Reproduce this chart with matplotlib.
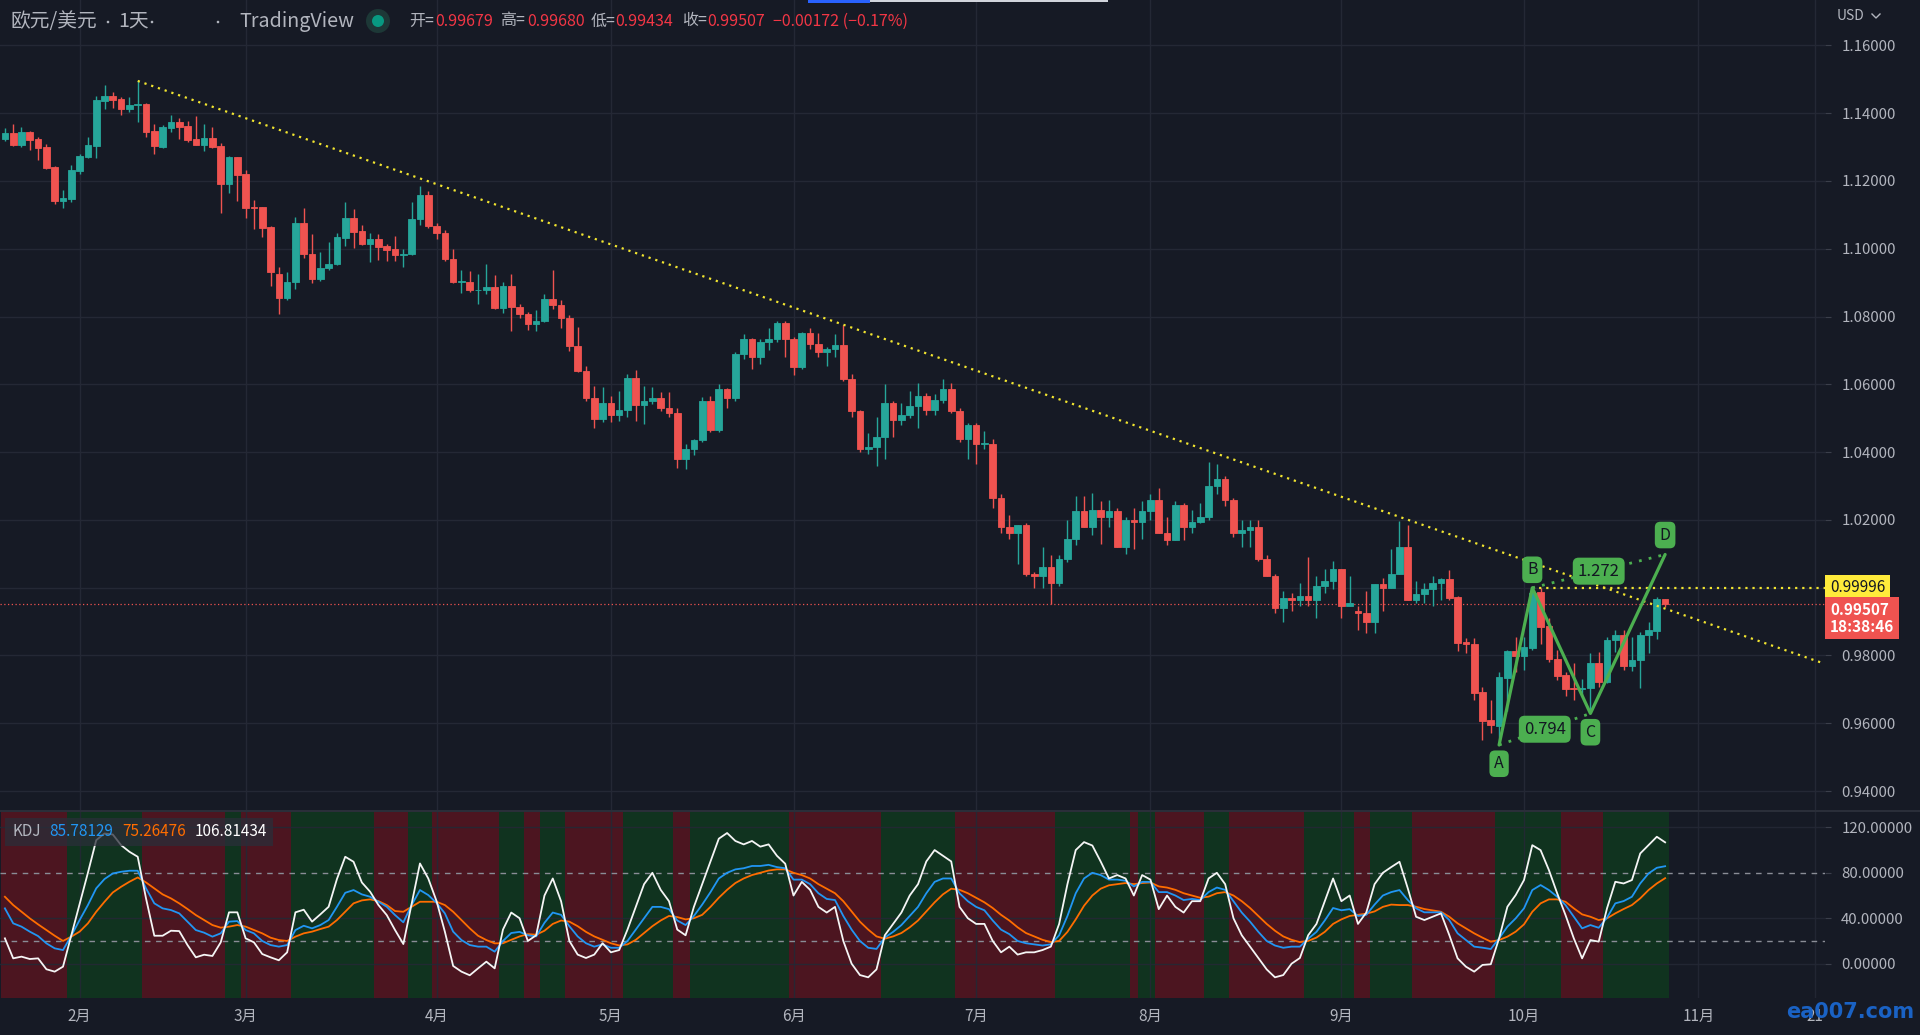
import numpy as np
import pandas as pd
import matplotlib
matplotlib.use('Agg')
import matplotlib.pyplot as plt
import matplotlib.transforms as mtransforms
from matplotlib.patches import Rectangle, Circle

# ---------------- data (EUR/USD daily) ----------------
opens = [1.1323, 1.1341, 1.1306, 1.1344, 1.1323, 1.1300, 1.1241, 1.1142, 1.1147, 1.1229,
         1.1270, 1.1303, 1.1436, 1.1451, 1.1442, 1.1412, 1.1424, 1.1427, 1.1347, 1.1300,
         1.1356, 1.1374, 1.1362, 1.1323, 1.1306, 1.1326, 1.1303, 1.1191, 1.1270, 1.1220,
         1.1123, 1.1123, 1.1064, 1.0925, 1.0855, 1.0902, 1.1076, 1.0984, 1.0912, 1.0942,
         1.0956, 1.1032, 1.1090, 1.1052, 1.1014, 1.1029, 1.1008, 1.0999, 1.0981, 1.0985,
         1.1088, 1.1158, 1.1067, 1.1046, 1.0971, 1.0903, 1.0903, 1.0877, 1.0877, 1.0888,
         1.0826, 1.0891, 1.0827, 1.0808, 1.0779, 1.0788, 1.0851, 1.0834, 1.0796, 1.0713,
         1.0640, 1.0560, 1.0497, 1.0545, 1.0508, 1.0523, 1.0620, 1.0540, 1.0550, 1.0560,
         1.0530, 1.0515, 1.0380, 1.0410, 1.0435, 1.0550, 1.0465, 1.0585, 1.0560, 1.0690,
         1.0735, 1.0680, 1.0725, 1.0735, 1.0780, 1.0735, 1.0650, 1.0750, 1.0720, 1.0695,
         1.0705, 1.0715, 1.0615, 1.0520, 1.0410, 1.0415, 1.0445, 1.0545, 1.0495, 1.0510,
         1.0535, 1.0565, 1.0525, 1.0555, 1.0585, 1.0520, 1.0440, 1.0480, 1.0425, 1.0425,
         1.0265, 1.0180, 1.0160, 1.0185, 1.0040, 1.0035, 1.0060, 1.0015, 1.0085, 1.0145,
         1.0225, 1.0180, 1.0230, 1.0210, 1.0225, 1.0120, 1.0200, 1.0195, 1.0225, 1.0260,
         1.0160, 1.0140, 1.0245, 1.0180, 1.0195, 1.0210, 1.0300, 1.0320, 1.0260, 1.0160,
         1.0170, 1.0180, 1.0085, 1.0035, 0.9940, 0.9970, 0.9965, 0.9975, 0.9965, 1.0005,
         1.0020, 1.0055, 0.9945, 0.9930, 0.9925, 0.9900, 1.0010, 1.0000, 1.0040, 1.0120,
         0.9965, 0.9980, 0.9995, 1.0015, 1.0025, 0.9974, 0.9841, 0.9834, 0.9692, 0.9609,
         0.9592, 0.9734, 0.9814, 0.9798, 0.9823, 0.9988, 0.9887, 0.9791, 0.9741, 0.9703,
         0.9700, 0.9703, 0.9777, 0.9722, 0.9845, 0.9860, 0.9770, 0.9786, 0.9860, 0.9873,
         0.99679]
highs = [1.1355, 1.1368, 1.1358, 1.1347, 1.1329, 1.1309, 1.1244, 1.1173, 1.1247, 1.1279,
         1.1329, 1.1450, 1.1483, 1.1462, 1.1448, 1.1448, 1.1495, 1.1430, 1.1368, 1.1365,
         1.1394, 1.1386, 1.1377, 1.1391, 1.1368, 1.1359, 1.1312, 1.1273, 1.1270, 1.1232,
         1.1144, 1.1123, 1.1067, 1.0945, 1.0932, 1.1093, 1.1120, 1.1043, 1.0990, 1.1020,
         1.1045, 1.1138, 1.1117, 1.1070, 1.1046, 1.1043, 1.1014, 1.1037, 1.0999, 1.1137,
         1.1185, 1.1170, 1.1076, 1.1055, 1.0998, 1.0937, 1.0934, 1.0925, 1.0955, 1.0922,
         1.0903, 1.0925, 1.0838, 1.0814, 1.0818, 1.0866, 1.0937, 1.0850, 1.0804, 1.0770,
         1.0655, 1.0595, 1.0593, 1.0565, 1.0580, 1.0630, 1.0642, 1.0595, 1.0593, 1.0576,
         1.0577, 1.0530, 1.0425, 1.0440, 1.0563, 1.0565, 1.0600, 1.0590, 1.0695, 1.0748,
         1.0738, 1.0735, 1.0765, 1.0787, 1.0786, 1.0740, 1.0755, 1.0765, 1.0750, 1.0710,
         1.0748, 1.0775, 1.0630, 1.0525, 1.0455, 1.0505, 1.0600, 1.0550, 1.0545, 1.0580,
         1.0605, 1.0575, 1.0570, 1.0615, 1.0605, 1.0530, 1.0487, 1.0485, 1.0463, 1.0440,
         1.0275, 1.0215, 1.0185, 1.0190, 1.0045, 1.0120, 1.0095, 1.0095, 1.0200, 1.0270,
         1.0270, 1.0280, 1.0255, 1.0258, 1.0235, 1.0210, 1.0235, 1.0255, 1.0275, 1.0295,
         1.0210, 1.0255, 1.0250, 1.0230, 1.0250, 1.0370, 1.0365, 1.0330, 1.0265, 1.0200,
         1.0200, 1.0200, 1.0095, 1.0040, 0.9990, 0.9985, 1.0015, 1.0090, 1.0035, 1.0055,
         1.0080, 1.0055, 1.0035, 0.9945, 0.9990, 1.0010, 1.0030, 1.0115, 1.0198, 1.0185,
         1.0020, 1.0015, 1.0035, 1.0030, 1.0052, 0.9975, 0.9853, 0.9853, 0.9708, 0.9670,
         0.9750, 0.9816, 0.9855, 0.9855, 0.99996, 0.9998, 0.9910, 0.9816, 0.9752, 0.9777,
         0.9730, 0.9806, 0.9811, 0.9855, 0.9875, 0.9875, 0.9855, 0.9870, 0.9899, 0.9974,
         0.99680]
lows = [1.1319, 1.1303, 1.1301, 1.1291, 1.1262, 1.1235, 1.1132, 1.1120, 1.1138, 1.1220,
        1.1267, 1.1267, 1.1412, 1.1415, 1.1394, 1.1403, 1.1374, 1.1329, 1.1279, 1.1297,
        1.1344, 1.1323, 1.1315, 1.1305, 1.1288, 1.1297, 1.1105, 1.1164, 1.1141, 1.1090,
        1.1058, 1.1034, 1.0890, 1.0806, 1.0848, 1.0880, 1.0973, 1.0900, 1.0905, 1.0936,
        1.0951, 1.1008, 1.1002, 1.1011, 1.0962, 1.0968, 1.0964, 1.0965, 1.0945, 1.0980,
        1.1070, 1.1060, 1.1028, 1.0963, 1.0900, 1.0870, 1.0872, 1.0838, 1.0865, 1.0821,
        1.0810, 1.0758, 1.0797, 1.0760, 1.0757, 1.0785, 1.0823, 1.0767, 1.0697, 1.0637,
        1.0551, 1.0471, 1.0488, 1.0490, 1.0493, 1.0505, 1.0493, 1.0484, 1.0542, 1.0522,
        1.0505, 1.0354, 1.0350, 1.0390, 1.0430, 1.0460, 1.0460, 1.0530, 1.0550, 1.0675,
        1.0645, 1.0660, 1.0700, 1.0725, 1.0680, 1.0627, 1.0645, 1.0705, 1.0680, 1.0655,
        1.0680, 1.0610, 1.0505, 1.0400, 1.0395, 1.0360, 1.0380, 1.0445, 1.0480, 1.0500,
        1.0470, 1.0510, 1.0510, 1.0545, 1.0515, 1.0430, 1.0380, 1.0365, 1.0410, 1.0235,
        1.0160, 1.0145, 1.0070, 1.0035, 0.9998, 0.9998, 0.9952, 1.0005, 1.0075, 1.0125,
        1.0180, 1.0155, 1.0130, 1.0180, 1.0120, 1.0100, 1.0115, 1.0145, 1.0200, 1.0160,
        1.0125, 1.0140, 1.0140, 1.0160, 1.0190, 1.0200, 1.0275, 1.0240, 1.0150, 1.0120,
        1.0120, 1.0080, 1.0035, 0.9925, 0.9900, 0.9930, 0.9945, 0.9945, 0.9910, 0.9985,
        0.9995, 0.9910, 0.9945, 0.9875, 0.9865, 0.9865, 0.9930, 1.0000, 1.0040, 0.9965,
        0.9955, 0.9955, 0.9945, 0.9965, 0.9965, 0.9814, 0.9808, 0.9670, 0.9552, 0.9570,
        0.9536, 0.9635, 0.9750, 0.9757, 0.9815, 0.9835, 0.9780, 0.9727, 0.9680, 0.9668,
        0.9680, 0.9629, 0.9708, 0.9720, 0.9810, 0.9757, 0.9755, 0.9703, 0.9806, 0.9850,
        0.99434]
closes = [1.1340, 1.1306, 1.1344, 1.1321, 1.1297, 1.1237, 1.1141, 1.1150, 1.1232, 1.1273,
          1.1306, 1.1439, 1.1451, 1.1439, 1.1412, 1.1424, 1.1427, 1.1344, 1.1303, 1.1359,
          1.1374, 1.1359, 1.1321, 1.1306, 1.1326, 1.1300, 1.1191, 1.1270, 1.1217, 1.1120,
          1.1120, 1.1061, 1.0930, 1.0855, 1.0902, 1.1076, 1.0984, 1.0912, 1.0942, 1.0956,
          1.1035, 1.1090, 1.1049, 1.1014, 1.1029, 1.1005, 1.0996, 1.0981, 1.0985, 1.1088,
          1.1158, 1.1067, 1.1046, 1.0971, 1.0903, 1.0905, 1.0877, 1.0878, 1.0888, 1.0826,
          1.0891, 1.0827, 1.0808, 1.0779, 1.0788, 1.0851, 1.0834, 1.0796, 1.0713, 1.0640,
          1.0560, 1.0497, 1.0545, 1.0508, 1.0523, 1.0620, 1.0540, 1.0550, 1.0560, 1.0530,
          1.0515, 1.0380, 1.0410, 1.0435, 1.0550, 1.0465, 1.0585, 1.0560, 1.0690, 1.0735,
          1.0680, 1.0725, 1.0735, 1.0780, 1.0735, 1.0650, 1.0750, 1.0720, 1.0695, 1.0705,
          1.0715, 1.0615, 1.0520, 1.0410, 1.0415, 1.0445, 1.0545, 1.0495, 1.0510, 1.0535,
          1.0565, 1.0525, 1.0555, 1.0585, 1.0520, 1.0440, 1.0480, 1.0425, 1.0427, 1.0265,
          1.0180, 1.0160, 1.0185, 1.0040, 1.0035, 1.0060, 1.0015, 1.0085, 1.0145, 1.0225,
          1.0180, 1.0230, 1.0210, 1.0225, 1.0120, 1.0200, 1.0195, 1.0225, 1.0260, 1.0160,
          1.0140, 1.0245, 1.0180, 1.0195, 1.0210, 1.0300, 1.0320, 1.0260, 1.0160, 1.0170,
          1.0180, 1.0085, 1.0035, 0.9940, 0.9970, 0.9965, 0.9975, 0.9965, 1.0005, 1.0020,
          1.0055, 0.9945, 0.9955, 0.9925, 0.9900, 1.0010, 1.0000, 1.0040, 1.0120, 0.9965,
          0.9980, 0.9995, 1.0015, 1.0025, 0.9969, 0.9838, 0.9834, 0.9690, 0.9607, 0.9594,
          0.9737, 0.9814, 0.9798, 0.9825, 0.9985, 0.9885, 0.9790, 0.9740, 0.9702, 0.9700,
          0.9703, 0.9777, 0.9722, 0.9845, 0.9860, 0.9770, 0.9788, 0.9860, 0.9875, 0.9966,
          0.99507]

# KDJ values
kdj_k = [48.7, 35.5, 32.6, 28.2, 24.3, 17.9, 13.5, 12.0, 24.6, 38.4,
         51.6, 66.3, 74.5, 79.4, 80.9, 81.8, 81.8, 66.3, 53.1, 48.7,
         47.2, 44.3, 37.0, 29.6, 27.3, 23.8, 26.7, 37.0, 37.5, 29.6,
         26.7, 20.0, 16.4, 15.0, 16.4, 29.6, 33.4, 31.1, 34.0, 38.4,
         50.1, 62.4, 64.8, 61.0, 58.9, 54.5, 50.1, 42.8, 36.4, 51.6,
         64.8, 60.4, 53.5, 44.3, 28.2, 20.8, 16.4, 15.0, 15.0, 10.6,
         20, 27, 28, 25, 24, 36, 45, 43, 33, 24,
         18, 15, 17, 14, 14, 20, 30, 40, 50, 50,
         48, 38, 34, 42, 52, 63, 75, 80, 83, 84,
         86, 86, 87, 85, 84, 74, 74, 70, 62, 57,
         56, 42, 30, 20, 14, 13, 23, 28, 34, 42,
         50, 62, 72, 75, 75, 62, 55, 50, 47, 38,
         30, 26, 20, 18, 17, 16, 17, 25, 42, 62,
         75, 80, 78, 74, 74, 73, 68, 72, 72, 63,
         63, 60, 56, 57, 56, 63, 67, 65, 55, 45,
         37, 28, 20, 16, 14, 15, 15, 22, 28, 38,
         49, 47, 48, 42, 43, 52, 60, 63, 64.8, 56.0,
         48.7, 45.2, 45.2, 45.3, 38.4, 26.7, 20.8, 15.0, 14.1, 12.9,
         22.3, 32.6, 39.9, 48.7, 64.8, 69.2, 64.8, 58.9, 51.6, 41.3,
         31.1, 34.0, 31.6, 40.5, 53.1, 55.1, 58.9, 70.6, 79.4, 84.4,
         85.78129]
kdj_d = [58.9, 51.6, 45.7, 39.9, 34.6, 29.6, 24.6, 20.0, 23.8, 28.2,
         35.5, 45.7, 54.5, 62.7, 67.7, 72.1, 75.9, 71.5, 66.3, 61.0,
         57.5, 53.1, 48.1, 42.8, 38.4, 34.0, 31.7, 32.6, 34.0, 32.6,
         29.6, 26.7, 22.9, 20.8, 20.0, 23.8, 26.7, 28.2, 30.5, 32.6,
         38.4, 45.7, 53.1, 55.7, 56.6, 55.1, 51.6, 46.3, 45.7, 50.1,
         54.5, 54.5, 54.5, 51.6, 45.7, 38.4, 31.1, 24.6, 20.8, 17.9,
         18, 21, 24, 26, 25.5, 29, 35, 38, 37, 33,
         28, 24, 21, 18, 16, 17, 21, 27, 33, 38,
         42, 41, 39, 40, 43, 50, 58, 65, 71, 75,
         78, 80, 82, 83, 83, 80, 78, 75, 70, 66,
         62, 55, 46, 37, 30, 24, 22, 24, 27, 32,
         38, 46, 54, 61, 66, 65, 62, 58, 54, 49,
         43, 38, 32, 27, 24, 21, 19, 20, 28, 39,
         51, 60, 66, 69, 70, 71, 70, 71, 71.5, 68,
         67, 65, 62, 60, 58, 59, 62, 63, 60, 55,
         49, 42, 35, 29, 24, 21, 19, 20, 23, 28,
         35, 39, 42, 43, 44, 46, 50, 52, 51.6, 51.6,
         50.1, 48.1, 46.9, 45.7, 41.3, 35.5, 31.1, 26.7, 22.9, 19.4,
         20.8, 23.8, 28.2, 34.6, 45.7, 53.1, 56.6, 56.6, 54.5, 48.7,
         43.4, 41.3, 38.4, 39.9, 44.3, 48.1, 51.6, 57.5, 64.8, 70.6,
         75.26476]
kdj_j = [22.3, 4.7, 6.2, 4.1, 4.7, -4.9, -7.0, -2.6, 24.9, 52.5,
         80.0, 108.7, 114.6, 113.7, 104.3, 98.5, 94.1, 57.5, 24.6, 24.6,
         29.0, 28.7, 16.4, 5.6, 7.9, 6.8, 18.8, 45.2, 45.2, 22.3,
         18.8, 8.5, 5.6, 3.0, 10.0, 45.2, 47.5, 37.0, 43.4, 50.1,
         74.5, 94.1, 89.7, 71.5, 63.3, 51.6, 42.8, 29.6, 17.3, 52.8,
         88.2, 75.0, 55.1, 28.2, -2.0, -7.0, -10.2, -4.1, 1.8, -4.1,
         30, 45, 40, 20, 25, 60, 75, 55, 20, 8,
         5, 8, 18, 10, 12, 30, 50, 70, 80, 65,
         55, 30, 25, 50, 70, 90, 110, 115, 108, 105,
         108, 103, 105, 95, 88, 60, 72, 65, 50, 45,
         50, 20, 0, -10, -12, -5, 25, 35, 45, 60,
         70, 90, 100, 95, 90, 50, 40, 35, 35, 20,
         10, 15, 8, 10, 10, 12, 15, 35, 70, 100,
         107, 104, 90, 75, 78, 75, 60, 78, 74, 48,
         60, 50, 45, 55, 55, 75, 80, 70, 40, 25,
         15, 5, -5, -12, -10, 0, 5, 25, 35, 55,
         75, 55, 60, 35, 45, 70, 80, 85, 89.7, 66.3,
         41.3, 38.4, 41.3, 44.3, 25.2, 4.7, -2.6, -7.0, -1.1, -0.5,
         22.3, 50.1, 60.4, 73.6, 104.3, 99.9, 82.4, 61.9, 42.8, 22.3,
         4.7, 20.8, 19.4, 48.7, 72.1, 70.6, 73.6, 97.0, 104.3, 111.7,
         106.81434]

# background bands of the KDJ pane: first bar of each run, and whether K is above D
band_start = [0, 8, 17, 27, 29, 35, 45, 49, 52, 60, 63, 65, 68, 75, 81, 83,
              95, 106, 115, 127, 136, 137, 139, 145, 148, 157, 163, 165, 170, 180, 188, 193]
band_up = [False, True] * 16

# drawings
trend_anchor_idx = [16, 168]
trend_anchor_price = [1.1495, 1.0209]
abcd_names = ['A', 'B', 'C', 'D']
abcd_idx = [180, 184, 191, 200]
abcd_price = [0.9536, 0.99996, 0.9629, 1.0098]
ratio_ac = '0.794'
ratio_bd = '1.272'
level_price = 0.99996
last_price = 0.99507
countdown = '18:38:46'

price_ticks = [0.94, 0.96, 0.98, 1.02, 1.04, 1.06, 1.08, 1.10, 1.12, 1.14, 1.16]
kdj_ticks = [0, 40, 80, 120]
month_labels = ['2月', '3月', '4月', '5月', '6月', '7月', '8月', '9月', '10月', '11月', '21']

# ---------------- style ----------------
BG = '#161a25'
GRID = '#242835'
TXT = '#b2b5be'
UP = '#26a69a'
DOWN = '#ef5350'
RED_TXT = '#f23645'
GREEN = '#4caf50'
YEL = '#f2e530'
BAND_UP = '#10331f'
BAND_DN = '#4c1520'

plt.rcParams['font.family'] = ['Noto Sans CJK SC', 'DejaVu Sans']
plt.rcParams['axes.unicode_minus'] = False

W, H = 1920, 1035
fig = plt.figure(figsize=(W / 100, H / 100), dpi=100, facecolor=BG)


def frac(x0, y0, x1, y1):
    return [x0 / W, 1 - y1 / H, (x1 - x0) / W, (y1 - y0) / H]


ax = fig.add_axes(frac(0, 0, 1824.5, 809.5))
axk = fig.add_axes(frac(0, 812, 1824.5, 998))
for a in (ax, axk):
    a.set_facecolor(BG)
    for s in a.spines.values():
        s.set_visible(False)

n = len(closes)
x = np.arange(n)
o = np.array(opens)
c = np.array(closes)
hi = np.array(highs)
lo = np.array(lows)

# calendar for the time axis
cal = pd.bdate_range('2022-01-19', '2022-11-30')
month_pos = [i for i in range(1, len(cal)) if cal[i].month != cal[i - 1].month]
month_pos = month_pos[:10] + [cal.get_loc(pd.Timestamp('2022-11-21'))]

XL = (-0.59, 219.2)

# ---------------- main pane ----------------
ax.set_xlim(*XL)
ax.set_ylim(0.93457, 1.17337)
for t in price_ticks + [1.00]:
    ax.axhline(t, color=GRID, lw=1, zorder=0.5)
for p in month_pos:
    ax.axvline(p, color=GRID, lw=1, zorder=0.5)

col = np.where(c >= o, UP, DOWN)
ax.vlines(x, lo, hi, colors=col, linewidth=1.0, zorder=3)
ax.bar(x, np.abs(c - o), bottom=np.minimum(o, c), width=0.8, color=col,
       edgecolor=col, linewidth=0.6, zorder=4)

# descending trend line
slope = (trend_anchor_price[1] - trend_anchor_price[0]) / (trend_anchor_idx[1] - trend_anchor_idx[0])
x_end = XL[1]
ax.plot([trend_anchor_idx[0], x_end],
        [trend_anchor_price[0], trend_anchor_price[0] + slope * (x_end - trend_anchor_idx[0])],
        color=YEL, lw=1.6, ls=(0, (1, 2.2)), zorder=5)
# level from B
ax.plot([abcd_idx[1], x_end], [level_price, level_price], color=YEL, lw=1.6,
        ls=(0, (1, 2.2)), zorder=5)
# last price line
ax.axhline(last_price, color=DOWN, lw=0.9, ls=(0, (1, 2)), zorder=2)

# ABCD pattern
ax.plot(abcd_idx, abcd_price, color=GREEN, lw=2.3, zorder=6, solid_capstyle='round')
ax.plot([abcd_idx[0], abcd_idx[2]], [abcd_price[0], abcd_price[2]], color=GREEN, lw=2.0,
        ls=(0, (1, 2.6)), zorder=6)
ax.plot([abcd_idx[1], abcd_idx[3]], [abcd_price[1], abcd_price[3]], color=GREEN, lw=2.0,
        ls=(0, (1, 2.6)), zorder=6)
box_kw = dict(boxstyle='round,pad=0.3,rounding_size=0.35', fc=GREEN, ec='none')
for name, px, py, dy in zip(abcd_names, abcd_idx, abcd_price, [-13.5, 13, -13.5, 14]):
    ax.annotate(name, (px, py), xytext=(0, dy), textcoords='offset points', ha='center',
                va='center', fontsize=11.5, color='#131722', bbox=box_kw, zorder=8)
for (i0, i1), label in (((0, 2), ratio_ac), ((1, 3), ratio_bd)):
    mx = (abcd_idx[i0] + abcd_idx[i1]) / 2
    my = (abcd_price[i0] + abcd_price[i1]) / 2
    ax.text(mx, my, label, ha='center', va='center', fontsize=12, color='#131722',
            bbox=dict(boxstyle='round,pad=0.3,rounding_size=0.35', fc=GREEN, ec='none'),
            zorder=8)

# price axis
ax.yaxis.tick_right()
ax.set_yticks(price_ticks)
ax.yaxis.set_major_formatter(plt.FuncFormatter(lambda v, p: f'{v:.5f}'))
ax.tick_params(axis='y', length=4, width=0.8, color='#3b3f4b', labelcolor=TXT,
               labelsize=10.8, pad=8)
ax.set_xticks([])

bt = mtransforms.blended_transform_factory(ax.transAxes, ax.transData)
ax.text(1.003, level_price, '0.99996', transform=bt, ha='left', va='center',
        fontsize=11, color='#131722', clip_on=False, zorder=9,
        bbox=dict(boxstyle='square,pad=0.3', fc='#ffeb3b', ec='none'))
ax.text(1.003, last_price + 0.00075, f'{last_price:.5f}\n{countdown}', transform=bt,
        ha='left', va='top', fontsize=11, color='white', fontweight='bold',
        linespacing=1.05, clip_on=False, zorder=9,
        bbox=dict(boxstyle='square,pad=0.3', fc=DOWN, ec='none'))

# ---------------- KDJ pane ----------------
axk.set_xlim(*XL)
axk.set_ylim(-30.2, 133.5)
ends = band_start[1:] + [n]
for s, e, up in zip(band_start, ends, band_up):
    axk.axvspan(s - 0.5, e - 0.5, color=BAND_UP if up else BAND_DN, lw=0, zorder=0.2)
for t in (0, 40, 120):
    axk.axhline(t, color=GRID, lw=1, zorder=0.5, alpha=0.9)
for p in month_pos:
    axk.axvline(p, color=GRID, lw=1, zorder=0.5, alpha=0.9)
for lvl in (80, 20):
    axk.axhline(lvl, color='#8a8d96', lw=1, ls=(0, (4, 4)), zorder=1)
axk.plot(x, kdj_d, color='#ff6d00', lw=1.3, zorder=3)
axk.plot(x, kdj_k, color='#2196f3', lw=1.3, zorder=4)
axk.plot(x, kdj_j, color='#f5f5f5', lw=1.3, zorder=5)

axk.yaxis.tick_right()
axk.set_yticks(kdj_ticks)
axk.yaxis.set_major_formatter(plt.FuncFormatter(lambda v, p: f'{v:.5f}'))
axk.tick_params(axis='y', length=4, width=0.8, color='#3b3f4b', labelcolor=TXT,
                labelsize=10.8, pad=8)
axk.set_xticks(month_pos)
axk.set_xticklabels(month_labels)
axk.tick_params(axis='x', length=0, labelcolor=TXT, labelsize=11, pad=7)

# KDJ legend
fig.add_artist(Rectangle((5 / W, 1 - 846 / H), 268 / W, 28 / H, transform=fig.transFigure,
                         fc='#2a2e39', ec='none', alpha=0.75, zorder=10))
for xx, s, cc in ((12, 'KDJ', TXT), (49, f'{kdj_k[-1]:.5f}', '#2196f3'),
                  (122, f'{kdj_d[-1]:.5f}', '#ff6d00'), (195, f'{kdj_j[-1]:.5f}', 'white')):
    fig.text(xx / W, 1 - 832 / H, s, color=cc, fontsize=11, ha='left', va='center', zorder=11)

# pane separator
fig.add_artist(Rectangle((0, 1 - 811.5 / H), 1, 2 / H, transform=fig.transFigure,
                         fc='#2a2e39', ec='none', zorder=10))

# ---------------- header ----------------
for xx, s in ((11, '欧元/美元'), (118, '1天'), (239, 'TradingView')):
    fig.text(xx / W, 1 - 21 / H, s, color=TXT, fontsize=14.2, ha='left', va='center')
for xx in (108, 152, 218):
    fig.add_artist(Circle((xx / 100, (H - 22) / 100), 0.013, transform=fig.dpi_scale_trans,
                          fc=TXT, ec='none'))
fig.add_artist(Circle((378 / 100, (H - 21) / 100), 0.12, transform=fig.dpi_scale_trans,
                      fc='#1d3837', ec='none'))
fig.add_artist(Circle((378 / 100, (H - 21) / 100), 0.06, transform=fig.dpi_scale_trans,
                      fc='#089981', ec='none'))
pieces = [(409, '开=', TXT), (435, f'{opens[-1]:.5f}', RED_TXT),
          (500, '高=', TXT), (527, f'{highs[-1]:.5f}', RED_TXT),
          (591, '低=', TXT), (615, f'{lows[-1]:.5f}', RED_TXT),
          (682, '收=', TXT), (707, f'{closes[-1]:.5f}', RED_TXT),
          (773, '\u22120.00172 (\u22120.17%)', RED_TXT)]
for xx, s, cc in pieces:
    fig.text(xx / W, 1 - 21 / H, s, color=cc, fontsize=11.5, ha='left', va='center')

# toolbar remnants at the very top
fig.add_artist(Rectangle((808 / W, 1 - 3 / H), 62 / W, 3 / H, transform=fig.transFigure,
                         fc='#2962ff', ec='none'))
fig.add_artist(Rectangle((870 / W, 1 - 2 / H), 238 / W, 2 / H, transform=fig.transFigure,
                         fc='#d1d4dc', ec='none'))

# currency label
fig.text(1837 / W, 1 - 16 / H, 'USD', color=TXT, fontsize=10, ha='left', va='center')
fig.add_artist(plt.Line2D([1872 / W, 1876 / W, 1880 / W], [1 - 14 / H, 1 - 18 / H, 1 - 14 / H],
                          transform=fig.transFigure, color=TXT, lw=1))

# watermark
fig.text(1850 / W, 1 - 1012 / H, 'ea007.com', color='#1a62c4', fontsize=15,
         fontweight='bold', family='DejaVu Sans', ha='center', va='center', zorder=20)

fig.savefig('out.png', dpi=100, facecolor=BG)
